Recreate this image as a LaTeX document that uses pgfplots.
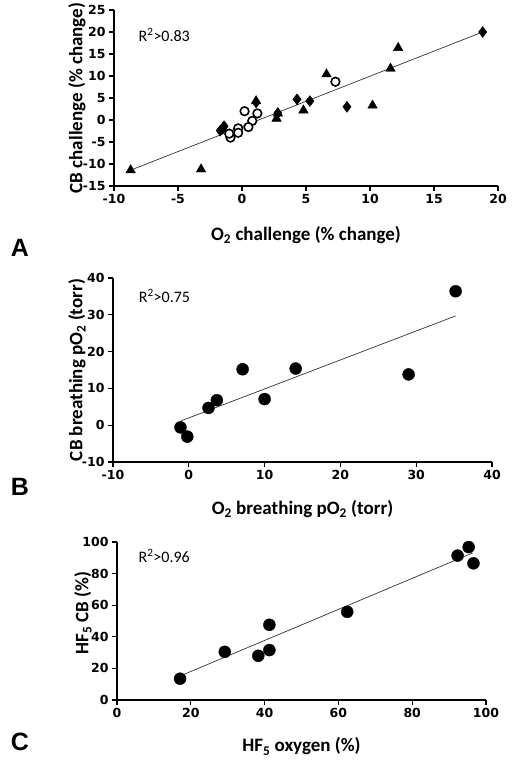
\documentclass[border=0pt]{standalone}
\usepackage{pgfplots}
\pgfplotsset{compat=1.18}
\usepackage{fontspec}
\setmainfont{Carlito}
\newfontfamily\tickfont{DejaVu Sans}
\newfontfamily\letterfont{Liberation Sans}
\pgfplotsset{panel/.style={
  scale only axis, axis lines=left, axis line style={line width=1.4bp,-},
  tick align=outside, major tick length=5bp,
  tick style={line width=1.2bp, black},
  ticklabel style={font=\tickfont\bfseries\fontsize{12.5bp}{13bp}\selectfont},
  /pgf/number format/assume math mode=true,
  label style={font=\bfseries\fontsize{19bp}{21bp}\selectfont},
  xlabel style={anchor=base},
  ylabel style={anchor=center},
  clip=false,
  fitline/.style={line width=0.7bp, black!80, no marks},
}}
\begin{document}
\begin{tikzpicture}
\path[use as bounding box] (0,0) rectangle (512bp,-766bp);
% Panel A
\begin{axis}[panel, at={(114bp,-186bp)}, anchor=south west, width=384bp, height=176bp,
  xmin=-10, xmax=20, ymin=-15, ymax=25,
  xtick={-10,-5,...,20}, ytick={-15,-10,...,25},
  xlabel={O\textsubscript{2} challenge (\% change)}, xlabel style={at={(axis description cs:0.5,-0.307)}},
  ylabel={CB challenge (\% change)}, ylabel style={at={(axis description cs:-0.0964,0.5)}}]
\addplot[fitline] coordinates {(-8.7,-11.4) (18.8,20.0)};
\addplot[only marks, mark=diamond*, mark size=5.5bp, black] coordinates {
(18.8,20.0) (4.3,4.7) (5.3,4.3) (8.2,3.0) (1.1,4.0) (2.8,1.6) (-1.4,-1.4) (-1.7,-2.4) (-1.5,-1.9)};
\addplot[only marks, mark=triangle*, mark size=5.5bp, black] coordinates {
(-8.7,-11.4) (-3.2,-11.2) (1.1,4.3) (2.8,1.5) (2.7,0.3) (4.8,2.2) (6.6,10.4) (10.2,3.3) (11.6,11.7) (12.2,16.4)};
\addplot[only marks, mark=*, mark size=4.3bp, mark options={draw=black, fill=white, line width=1.6bp}] coordinates {
(7.3,8.7) (0.2,2.0) (1.2,1.5) (0.8,-0.2) (0.5,-1.6) (-0.3,-1.9) (-0.3,-2.9) (-0.9,-4.0) (-1.0,-3.1)};
\node[anchor=west, font=\fontsize{16bp}{17bp}\selectfont] at (axis description cs:0.055,0.858) {R\textsuperscript{2}>0.83};
\end{axis}
% Panel B
\begin{axis}[panel, at={(113bp,-462bp)}, anchor=south west, width=379bp, height=184bp,
  xmin=-10, xmax=40, ymin=-10, ymax=40,
  xtick={-10,0,...,40}, ytick={-10,0,...,40},
  xlabel={O\textsubscript{2} breathing pO\textsubscript{2} (torr)}, xlabel style={at={(axis description cs:0.5,-0.283)}},
  ylabel={CB breathing pO\textsubscript{2} (torr)}, ylabel style={at={(axis description cs:-0.095,0.5)}}]
\addplot[fitline] coordinates {(-1.0,1.2) (35.2,29.7)};
\addplot[only marks, mark=*, mark size=6bp, black] coordinates {
(-1.1,-0.6) (-0.2,-3.1) (2.6,4.7) (3.7,6.8) (7.1,15.2) (10.0,7.1) (14.1,15.4) (29.0,13.8) (35.2,36.4)};
\node[anchor=west, font=\fontsize{16bp}{17bp}\selectfont] at (axis description cs:0.059,0.902) {R\textsuperscript{2}>0.75};
\end{axis}
% Panel C
\begin{axis}[panel, at={(117bp,-700bp)}, anchor=south west, width=369bp, height=158bp,
  xmin=0, xmax=100, ymin=0, ymax=100,
  xtick={0,20,...,100}, ytick={0,20,...,100},
  xlabel={HF\textsubscript{5} oxygen (\%)}, xlabel style={at={(axis description cs:0.5,-0.329)}},
  ylabel={HF\textsubscript{5} CB (\%)}, ylabel style={at={(axis description cs:-0.0921,0.55)}}]
\addplot[fitline] coordinates {(17.1,15.2) (96.4,93.1)};
\addplot[only marks, mark=*, mark size=6bp, black] coordinates {
(17.1,13.5) (29.2,30.5) (38.3,28.0) (41.3,31.6) (41.3,47.6) (62.4,55.8) (92.3,91.4) (95.3,96.8) (96.6,86.5)};
\node[anchor=west, font=\fontsize{16bp}{17bp}\selectfont] at (axis description cs:0.049,0.911) {R\textsuperscript{2}>0.96};
\end{axis}
\node[font=\letterfont\bfseries\fontsize{25bp}{26bp}\selectfont] at (20bp,-248bp) {A};
\node[font=\letterfont\bfseries\fontsize{25bp}{26bp}\selectfont] at (20bp,-487bp) {B};
\node[font=\letterfont\bfseries\fontsize{25bp}{26bp}\selectfont] at (20bp,-742bp) {C};
\end{tikzpicture}
\end{document}
